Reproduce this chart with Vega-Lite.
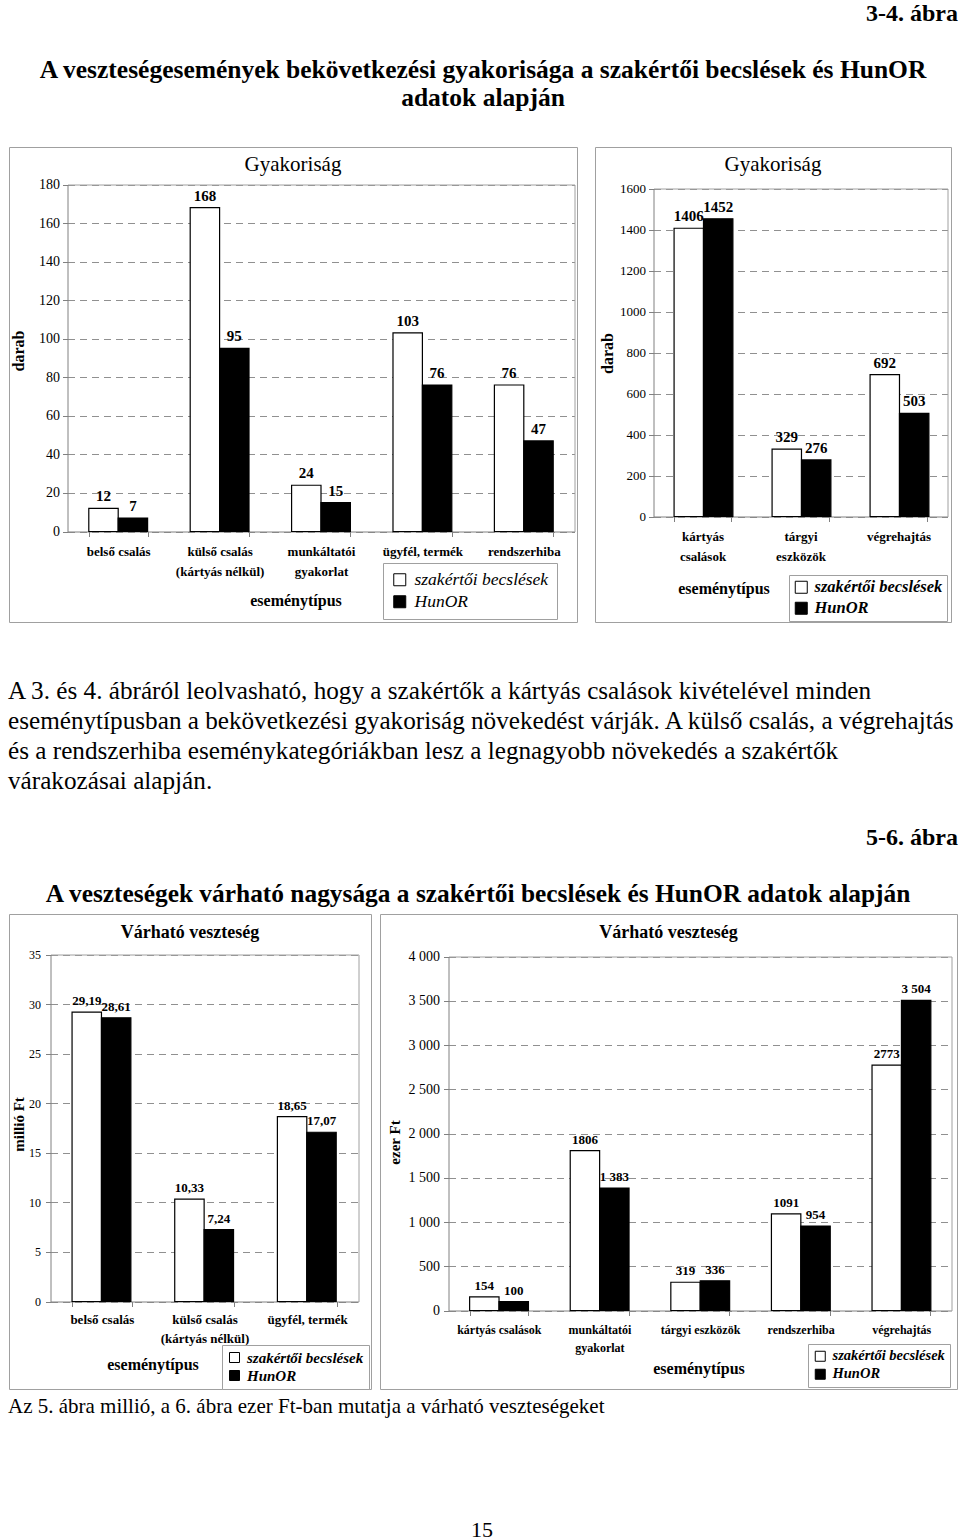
{
  "$schema": "https://vega.github.io/schema/vega-lite/v6.json",
  "padding": 0,
  "background": "white",
  "spacing": 0,
  "resolve": {"scale": {"fill": "independent"}, "legend": {"fill": "independent"}},
  "config": {
    "font": "Liberation Serif",
    "view": {"stroke": "#a0a0a0", "strokeWidth": 1},
    "axis": {"labelFont": "Liberation Serif", "titleFont": "Liberation Serif", "labelColor": "black", "titleColor": "black"},
    "legend": {"labelFont": "Liberation Serif", "labelColor": "black"},
    "title": {"font": "Liberation Serif", "color": "black"},
    "text": {"font": "Liberation Serif", "color": "black"}
  },
  "datasets": {
    "head": [
      {"line": 0, "kind": "figno", "text": "3-4. ábra"},
      {"line": 2, "kind": "title", "text": "A veszteségesemények bekövetkezési gyakorisága a szakértői becslések és HunOR"},
      {"line": 3, "kind": "title", "text": "adatok alapján"}
    ],
    "mid": [
      {"line": 0, "kind": "para", "text": "A 3. és 4. ábráról leolvasható, hogy a szakértők a kártyás csalások kivételével minden"},
      {"line": 1, "kind": "para", "text": "eseménytípusban a bekövetkezési gyakoriság növekedést várják. A külső csalás, a végrehajtás"},
      {"line": 2, "kind": "para", "text": "és a rendszerhiba eseménykategóriákban lesz a legnagyobb növekedés a szakértők"},
      {"line": 3, "kind": "para", "text": "várakozásai alapján."},
      {"line": 5, "kind": "figno", "text": "5-6. ábra"},
      {"line": 7, "kind": "title", "text": "A veszteségek várható nagysága a szakértői becslések és HunOR adatok alapján"}
    ],
    "foot": [
      {"line": 0, "kind": "para", "text": "Az 5. ábra millió, a 6. ábra ezer Ft-ban mutatja a várható veszteségeket"},
      {"line": 4, "kind": "page", "text": "15"}
    ],
    "g1": [
      {"cat": "belső csalás", "series": "szakértői becslések", "value": 12, "label": "12"},
      {"cat": "belső csalás", "series": "HunOR", "value": 7, "label": "7"},
      {"cat": "külső csalás\n(kártyás nélkül)", "series": "szakértői becslések", "value": 168, "label": "168"},
      {"cat": "külső csalás\n(kártyás nélkül)", "series": "HunOR", "value": 95, "label": "95"},
      {"cat": "munkáltatói\ngyakorlat", "series": "szakértői becslések", "value": 24, "label": "24"},
      {"cat": "munkáltatói\ngyakorlat", "series": "HunOR", "value": 15, "label": "15"},
      {"cat": "ügyfél, termék", "series": "szakértői becslések", "value": 103, "label": "103"},
      {"cat": "ügyfél, termék", "series": "HunOR", "value": 76, "label": "76"},
      {"cat": "rendszerhiba", "series": "szakértői becslések", "value": 76, "label": "76"},
      {"cat": "rendszerhiba", "series": "HunOR", "value": 47, "label": "47"}
    ],
    "g2": [
      {"cat": "kártyás\ncsalások", "series": "szakértői becslések", "value": 1406, "label": "1406"},
      {"cat": "kártyás\ncsalások", "series": "HunOR", "value": 1452, "label": "1452"},
      {"cat": "tárgyi\neszközök", "series": "szakértői becslések", "value": 329, "label": "329"},
      {"cat": "tárgyi\neszközök", "series": "HunOR", "value": 276, "label": "276"},
      {"cat": "végrehajtás", "series": "szakértői becslések", "value": 692, "label": "692"},
      {"cat": "végrehajtás", "series": "HunOR", "value": 503, "label": "503"}
    ],
    "v1": [
      {"cat": "belső csalás", "series": "szakértői becslések", "value": 29.19, "label": "29,19"},
      {"cat": "belső csalás", "series": "HunOR", "value": 28.61, "label": "28,61"},
      {"cat": "külső csalás\n(kártyás nélkül)", "series": "szakértői becslések", "value": 10.33, "label": "10,33"},
      {"cat": "külső csalás\n(kártyás nélkül)", "series": "HunOR", "value": 7.24, "label": "7,24"},
      {"cat": "ügyfél, termék", "series": "szakértői becslések", "value": 18.65, "label": "18,65"},
      {"cat": "ügyfél, termék", "series": "HunOR", "value": 17.07, "label": "17,07"}
    ],
    "v2": [
      {"cat": "kártyás csalások", "series": "szakértői becslések", "value": 154, "label": "154"},
      {"cat": "kártyás csalások", "series": "HunOR", "value": 100, "label": "100"},
      {"cat": "munkáltatói\ngyakorlat", "series": "szakértői becslések", "value": 1806, "label": "1806"},
      {"cat": "munkáltatói\ngyakorlat", "series": "HunOR", "value": 1383, "label": "1 383"},
      {"cat": "tárgyi eszközök", "series": "szakértői becslések", "value": 319, "label": "319"},
      {"cat": "tárgyi eszközök", "series": "HunOR", "value": 336, "label": "336"},
      {"cat": "rendszerhiba", "series": "szakértői becslések", "value": 1091, "label": "1091"},
      {"cat": "rendszerhiba", "series": "HunOR", "value": 954, "label": "954"},
      {"cat": "végrehajtás", "series": "szakértői becslések", "value": 2773, "label": "2773"},
      {"cat": "végrehajtás", "series": "HunOR", "value": 3504, "label": "3 504"}
    ]
  },
  "vconcat": [
    {
      "width": 960, "height": 146,
      "view": {"stroke": null},
      "data": {"name": "head"},
      "layer": [
        {
          "transform": [{"filter": "datum.kind === 'title'"}],
          "mark": {"type": "text", "align": "center", "baseline": "middle", "fontSize": 25.5, "fontWeight": "bold", "dx": 3},
          "encoding": {
            "y": {"field": "line", "type": "quantitative", "scale": {"domain": [4.714, -0.5]}, "axis": null},
            "text": {"field": "text"}
          }
        },
        {
          "transform": [{"filter": "datum.kind === 'figno'"}],
          "mark": {"type": "text", "align": "right", "baseline": "middle", "fontSize": 24, "fontWeight": "bold", "dx": -2, "dy": 0},
          "encoding": {
            "x": {"datum": 1, "type": "quantitative", "scale": {"domain": [0, 1]}, "axis": null},
            "y": {"field": "line", "type": "quantitative", "scale": {"domain": [4.714, -0.5]}, "axis": null},
            "text": {"field": "text"}
          }
        }
      ]
    },
    {
      "spacing": 0,
      "resolve": {"scale": {"fill": "independent"}, "legend": {"fill": "independent"}},
      "hconcat": [
        {"width": 8, "height": 475, "view": {"stroke": null}, "data": {"values": []}, "mark": "point"},
        {
          "width": 568, "height": 475,
          "title": {"text": "Gyakoriság", "offset": -28, "fontSize": 21, "fontWeight": "normal", "anchor": "middle", "frame": "group"},
          "data": {"name": "g1"},
          "resolve": {"axis": {"x": "independent", "y": "independent"}},
          "layer": [
            {
              "mark": {"type": "bar", "stroke": "black", "strokeWidth": 1.2},
              "encoding": {
                "x": {"field": "cat", "type": "nominal", "sort": null, "scale": {"range": [58.5, 565.5], "paddingInner": 0.42, "paddingOuter": 0.21},
                  "axis": {"orient": "bottom", "offset": -90.5, "title": "eseménytípus", "titleFontSize": 16, "titleFontWeight": "bold", "titleX": 286.5, "titleY": 69, "titleBaseline": "middle", "titleAlign": "center", "labelExpr": "split(datum.label, '\\n')", "labelFontSize": 13, "labelFontWeight": "bold", "labelAngle": 0, "labelPadding": 9, "labelLineHeight": 20, "labelOverlap": false, "labelBaseline": "top", "tickBand": "extent", "tickSize": 5, "tickColor": "#808080", "domainColor": "#808080", "grid": false}},
                "xOffset": {"field": "series", "type": "nominal", "sort": ["szakértői becslések", "HunOR"], "scale": {"paddingInner": 0, "paddingOuter": 0}},
                "y": {"field": "value", "type": "quantitative", "scale": {"domain": [0, 180], "range": [384.5, 37.5], "nice": false},
                  "axis": {"orient": "left", "offset": -58.5, "values": [0, 20, 40, 60, 80, 100, 120, 140, 160, 180], "format": "d", "title": "darab", "titleFontSize": 16, "titleFontWeight": "bold", "titleX": -49.5, "titleY": 203.5, "titleBaseline": "middle", "titleAlign": "center", "titleAngle": -90, "labelFontSize": 14, "labelPadding": 3, "tickSize": 5, "tickColor": "#808080", "domainColor": "#808080", "grid": true, "gridColor": "#909090", "gridDash": [7, 5]}},
                "fill": {"field": "series", "type": "nominal", "scale": {"domain": ["szakértői becslések", "HunOR"], "range": ["white", "black"]},
                  "legend": {"orient": "none", "legendX": 374, "legendY": 416, "title": null, "symbolType": "square", "symbolSize": 144, "symbolStrokeColor": "black", "symbolStrokeWidth": 1, "labelFontSize": 17.5, "labelFontStyle": "italic", "strokeColor": "#a0a0a0", "fillColor": "white", "padding": 8, "rowPadding": 3, "labelOffset": 6}}
              }
            },
            {
              "mark": {"type": "text", "baseline": "bottom", "dy": -4, "fontSize": 15, "fontWeight": "bold"},
              "encoding": {
                "x": {"field": "cat", "type": "nominal", "sort": null, "scale": {"range": [58.5, 565.5], "paddingInner": 0.42, "paddingOuter": 0.21},
                  "axis": {"orient": "top", "offset": -37.5, "labels": false, "ticks": false, "title": null, "domainColor": "#a0a0a0", "grid": false}},
                "xOffset": {"field": "series", "type": "nominal", "sort": ["szakértői becslések", "HunOR"], "scale": {"paddingInner": 0, "paddingOuter": 0}},
                "y": {"field": "value", "type": "quantitative", "scale": {"domain": [0, 180], "range": [384.5, 37.5], "nice": false},
                  "axis": {"orient": "right", "offset": -2.5, "labels": false, "ticks": false, "title": null, "domainColor": "#a0a0a0", "grid": false}},
                "text": {"field": "label"}
              }
            }
          ]
        },
        {"width": 16, "height": 475, "view": {"stroke": null}, "data": {"values": []}, "mark": "point"},
        {
          "width": 356, "height": 475,
          "title": {"text": "Gyakoriság", "offset": -28, "fontSize": 21, "fontWeight": "normal", "anchor": "middle", "frame": "group"},
          "data": {"name": "g2"},
          "resolve": {"axis": {"x": "independent", "y": "independent"}},
          "layer": [
            {
              "mark": {"type": "bar", "stroke": "black", "strokeWidth": 1.2},
              "encoding": {
                "x": {"field": "cat", "type": "nominal", "sort": null, "scale": {"range": [58.5, 352.5], "paddingInner": 0.42, "paddingOuter": 0.21},
                  "axis": {"orient": "bottom", "offset": -105.5, "title": "eseménytípus", "titleFontSize": 16, "titleFontWeight": "bold", "titleX": 128.5, "titleY": 72, "titleBaseline": "middle", "titleAlign": "center", "labelExpr": "split(datum.label, '\\n')", "labelFontSize": 13, "labelFontWeight": "bold", "labelAngle": 0, "labelPadding": 9, "labelLineHeight": 20, "labelOverlap": false, "labelBaseline": "top", "tickBand": "extent", "tickSize": 5, "tickColor": "#808080", "domainColor": "#808080", "grid": false}},
                "xOffset": {"field": "series", "type": "nominal", "sort": ["szakértői becslések", "HunOR"], "scale": {"paddingInner": 0, "paddingOuter": 0}},
                "y": {"field": "value", "type": "quantitative", "scale": {"domain": [0, 1600], "range": [369.5, 41.5], "nice": false},
                  "axis": {"orient": "left", "offset": -58.5, "values": [0, 200, 400, 600, 800, 1000, 1200, 1400, 1600], "format": "d", "title": "darab", "titleFontSize": 16, "titleFontWeight": "bold", "titleX": -46.5, "titleY": 206, "titleBaseline": "middle", "titleAlign": "center", "titleAngle": -90, "labelFontSize": 13, "labelPadding": 3, "tickSize": 5, "tickColor": "#808080", "domainColor": "#808080", "grid": true, "gridColor": "#909090", "gridDash": [7, 5]}},
                "fill": {"field": "series", "type": "nominal", "scale": {"domain": ["szakértői becslések", "HunOR"], "range": ["white", "black"]},
                  "legend": {"orient": "none", "legendX": 194, "legendY": 428, "title": null, "symbolType": "square", "symbolSize": 144, "symbolStrokeColor": "black", "symbolStrokeWidth": 1, "labelFontSize": 16.5, "labelFontStyle": "italic", "labelFontWeight": "bold", "strokeColor": "#a0a0a0", "fillColor": "white", "padding": 4, "rowPadding": 4, "labelOffset": 5}}
              }
            },
            {
              "mark": {"type": "text", "baseline": "bottom", "dy": -4, "fontSize": 15, "fontWeight": "bold"},
              "encoding": {
                "x": {"field": "cat", "type": "nominal", "sort": null, "scale": {"range": [58.5, 352.5], "paddingInner": 0.42, "paddingOuter": 0.21},
                  "axis": {"orient": "top", "offset": -41.5, "labels": false, "ticks": false, "title": null, "domainColor": "#a0a0a0", "grid": false}},
                "xOffset": {"field": "series", "type": "nominal", "sort": ["szakértői becslések", "HunOR"], "scale": {"paddingInner": 0, "paddingOuter": 0}},
                "y": {"field": "value", "type": "quantitative", "scale": {"domain": [0, 1600], "range": [369.5, 41.5], "nice": false},
                  "axis": {"orient": "right", "offset": -3.5, "labels": false, "ticks": false, "title": null, "domainColor": "#a0a0a0", "grid": false}},
                "text": {"field": "label"}
              }
            }
          ]
        }
      ]
    },
    {
      "width": 960, "height": 290,
      "view": {"stroke": null},
      "data": {"name": "mid"},
      "layer": [
        {
          "transform": [{"filter": "datum.kind === 'para'"}],
          "mark": {"type": "text", "align": "left", "baseline": "middle", "fontSize": 25.2, "dx": 8},
          "encoding": {
            "x": {"datum": 0, "type": "quantitative", "scale": {"domain": [0, 1]}, "axis": null},
            "y": {"field": "line", "type": "quantitative", "scale": {"domain": [7.4, -2.267]}, "axis": null},
            "text": {"field": "text"}
          }
        },
        {
          "transform": [{"filter": "datum.kind === 'figno'"}],
          "mark": {"type": "text", "align": "right", "baseline": "middle", "fontSize": 24, "fontWeight": "bold", "dx": -2, "dy": -3},
          "encoding": {
            "x": {"datum": 1, "type": "quantitative", "scale": {"domain": [0, 1]}, "axis": null},
            "y": {"field": "line", "type": "quantitative", "scale": {"domain": [7.4, -2.267]}, "axis": null},
            "text": {"field": "text"}
          }
        },
        {
          "transform": [{"filter": "datum.kind === 'title'"}],
          "mark": {"type": "text", "align": "center", "baseline": "middle", "fontSize": 25.4, "fontWeight": "bold", "dy": -7, "dx": -2},
          "encoding": {
            "y": {"field": "line", "type": "quantitative", "scale": {"domain": [7.4, -2.267]}, "axis": null},
            "text": {"field": "text"}
          }
        }
      ]
    },
    {
      "spacing": 0,
      "resolve": {"scale": {"fill": "independent"}, "legend": {"fill": "independent"}},
      "hconcat": [
        {"width": 8, "height": 475, "view": {"stroke": null}, "data": {"values": []}, "mark": "point"},
        {
          "width": 362, "height": 475,
          "title": {"text": "Várható veszteség", "offset": -28, "fontSize": 18, "fontWeight": "bold", "anchor": "middle", "frame": "group"},
          "data": {"name": "v1"},
          "resolve": {"axis": {"x": "independent", "y": "independent"}},
          "layer": [
            {
              "mark": {"type": "bar", "stroke": "black", "strokeWidth": 1.2},
              "encoding": {
                "x": {"field": "cat", "type": "nominal", "sort": null, "scale": {"range": [41.5, 349.5], "paddingInner": 0.42, "paddingOuter": 0.21},
                  "axis": {"orient": "bottom", "offset": -87.5, "title": "eseménytípus", "titleFontSize": 16, "titleFontWeight": "bold", "titleX": 143.5, "titleY": 63, "titleBaseline": "middle", "titleAlign": "center", "labelExpr": "split(datum.label, '\\n')", "labelFontSize": 13, "labelFontWeight": "bold", "labelAngle": 0, "labelPadding": 7, "labelLineHeight": 19, "labelOverlap": false, "labelBaseline": "top", "tickBand": "extent", "tickSize": 5, "tickColor": "#808080", "domainColor": "#808080", "grid": false}},
                "xOffset": {"field": "series", "type": "nominal", "sort": ["szakértői becslések", "HunOR"], "scale": {"paddingInner": 0, "paddingOuter": 0}},
                "y": {"field": "value", "type": "quantitative", "scale": {"domain": [0, 35], "range": [387.5, 40.5], "nice": false},
                  "axis": {"orient": "left", "offset": -41.5, "values": [0, 5, 10, 15, 20, 25, 30, 35], "title": "millió Ft", "titleFontSize": 15, "titleFontWeight": "bold", "titleX": -32, "titleY": 210, "titleBaseline": "middle", "titleAlign": "center", "titleAngle": -90, "labelFontSize": 12, "labelPadding": 5, "tickSize": 5, "tickColor": "#808080", "domainColor": "#808080", "grid": true, "gridColor": "#909090", "gridDash": [7, 5]}},
                "fill": {"field": "series", "type": "nominal", "scale": {"domain": ["szakértői becslések", "HunOR"], "range": ["white", "black"]},
                  "legend": {"orient": "none", "legendX": 213, "legendY": 431, "title": null, "symbolType": "square", "symbolSize": 100, "symbolStrokeColor": "black", "symbolStrokeWidth": 1, "labelFontSize": 15, "labelFontStyle": "italic", "labelFontWeight": "bold", "strokeColor": "#a0a0a0", "fillColor": "white", "padding": 5, "rowPadding": 2, "labelOffset": 5}}
              }
            },
            {
              "mark": {"type": "text", "baseline": "bottom", "dy": -4, "fontSize": 13, "fontWeight": "bold"},
              "encoding": {
                "x": {"field": "cat", "type": "nominal", "sort": null, "scale": {"range": [41.5, 349.5], "paddingInner": 0.42, "paddingOuter": 0.21},
                  "axis": {"orient": "top", "offset": -40.5, "labels": false, "ticks": false, "title": null, "domainColor": "#a0a0a0", "grid": false}},
                "xOffset": {"field": "series", "type": "nominal", "sort": ["szakértői becslések", "HunOR"], "scale": {"paddingInner": 0, "paddingOuter": 0}},
                "y": {"field": "value", "type": "quantitative", "scale": {"domain": [0, 35], "range": [387.5, 40.5], "nice": false},
                  "axis": {"orient": "right", "offset": -12.5, "labels": false, "ticks": false, "title": null, "domainColor": "#a0a0a0", "grid": false}},
                "text": {"field": "label"}
              }
            }
          ]
        },
        {"width": 7, "height": 475, "view": {"stroke": null}, "data": {"values": []}, "mark": "point"},
        {
          "width": 577, "height": 475,
          "title": {"text": "Várható veszteség", "offset": -28, "fontSize": 18, "fontWeight": "bold", "anchor": "middle", "frame": "group"},
          "data": {"name": "v2"},
          "resolve": {"axis": {"x": "independent", "y": "independent"}},
          "layer": [
            {
              "mark": {"type": "bar", "stroke": "black", "strokeWidth": 1.2},
              "encoding": {
                "x": {"field": "cat", "type": "nominal", "sort": null, "scale": {"range": [68.5, 571.5], "paddingInner": 0.42, "paddingOuter": 0.21},
                  "axis": {"orient": "bottom", "offset": -78.5, "title": "eseménytípus", "titleFontSize": 16, "titleFontWeight": "bold", "titleX": 318.5, "titleY": 58, "titleBaseline": "middle", "titleAlign": "center", "labelExpr": "split(datum.label, '\\n')", "labelFontSize": 12, "labelFontWeight": "bold", "labelAngle": 0, "labelPadding": 9, "labelLineHeight": 18, "labelOverlap": false, "labelBaseline": "top", "tickBand": "extent", "tickSize": 5, "tickColor": "#808080", "domainColor": "#808080", "grid": false}},
                "xOffset": {"field": "series", "type": "nominal", "sort": ["szakértői becslések", "HunOR"], "scale": {"paddingInner": 0, "paddingOuter": 0}},
                "y": {"field": "value", "type": "quantitative", "scale": {"domain": [0, 4000], "range": [396.5, 42.5], "nice": false},
                  "axis": {"orient": "left", "offset": -68.5, "values": [0, 500, 1000, 1500, 2000, 2500, 3000, 3500, 4000], "labelExpr": "replace(format(datum.value, ','), ',', ' ')", "title": "ezer Ft", "titleFontSize": 15, "titleFontWeight": "bold", "titleX": -54, "titleY": 228, "titleBaseline": "middle", "titleAlign": "center", "titleAngle": -90, "labelFontSize": 14, "labelPadding": 4, "tickSize": 5, "tickColor": "#808080", "domainColor": "#808080", "grid": true, "gridColor": "#909090", "gridDash": [7, 5]}},
                "fill": {"field": "series", "type": "nominal", "scale": {"domain": ["szakértői becslések", "HunOR"], "range": ["white", "black"]},
                  "legend": {"orient": "none", "legendX": 428, "legendY": 430, "title": null, "symbolType": "square", "symbolSize": 100, "symbolStrokeColor": "black", "symbolStrokeWidth": 1, "labelFontSize": 14.5, "labelFontStyle": "italic", "labelFontWeight": "bold", "strokeColor": "#a0a0a0", "fillColor": "white", "padding": 5, "rowPadding": 2, "labelOffset": 5}}
              }
            },
            {
              "mark": {"type": "text", "baseline": "bottom", "dy": -4, "fontSize": 13, "fontWeight": "bold"},
              "encoding": {
                "x": {"field": "cat", "type": "nominal", "sort": null, "scale": {"range": [68.5, 571.5], "paddingInner": 0.42, "paddingOuter": 0.21},
                  "axis": {"orient": "top", "offset": -42.5, "labels": false, "ticks": false, "title": null, "domainColor": "#a0a0a0", "grid": false}},
                "xOffset": {"field": "series", "type": "nominal", "sort": ["szakértői becslések", "HunOR"], "scale": {"paddingInner": 0, "paddingOuter": 0}},
                "y": {"field": "value", "type": "quantitative", "scale": {"domain": [0, 4000], "range": [396.5, 42.5], "nice": false},
                  "axis": {"orient": "right", "offset": -5.5, "labels": false, "ticks": false, "title": null, "domainColor": "#a0a0a0", "grid": false}},
                "text": {"field": "label"}
              }
            }
          ]
        }
      ]
    },
    {
      "width": 960, "height": 151,
      "view": {"stroke": null},
      "data": {"name": "foot"},
      "layer": [
        {
          "transform": [{"filter": "datum.kind === 'para'"}],
          "mark": {"type": "text", "align": "left", "baseline": "middle", "fontSize": 21, "dx": 8},
          "encoding": {
            "x": {"datum": 0, "type": "quantitative", "scale": {"domain": [0, 1]}, "axis": null},
            "y": {"field": "line", "type": "quantitative", "scale": {"domain": [4.467, -0.567]}, "axis": null},
            "text": {"field": "text"}
          }
        },
        {
          "transform": [{"filter": "datum.kind === 'page'"}],
          "mark": {"type": "text", "align": "center", "baseline": "middle", "fontSize": 22, "dx": 2, "dy": 3},
          "encoding": {
            "y": {"field": "line", "type": "quantitative", "scale": {"domain": [4.467, -0.567]}, "axis": null},
            "text": {"field": "text"}
          }
        }
      ]
    }
  ]
}
